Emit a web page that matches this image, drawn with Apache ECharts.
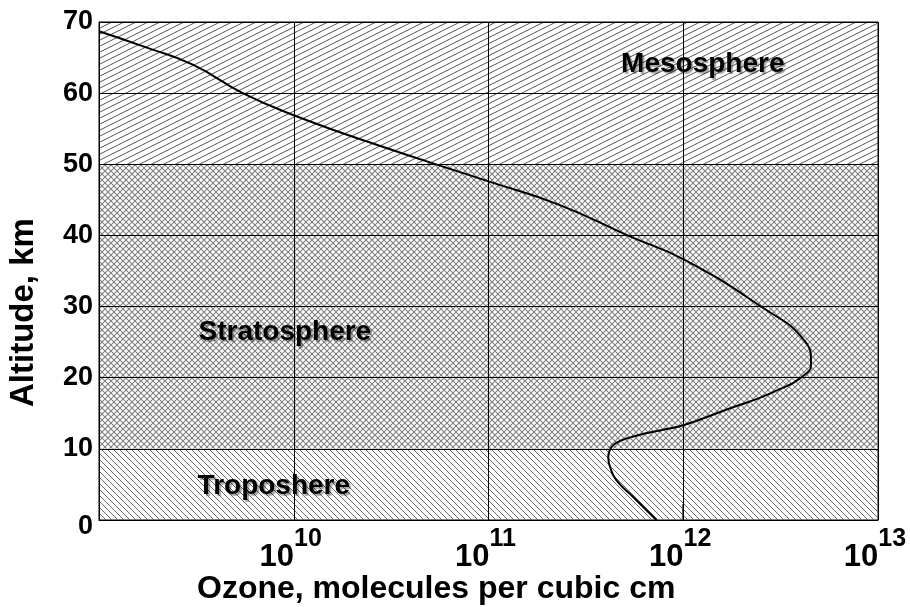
<!DOCTYPE html>
<html>
<head>
<meta charset="utf-8">
<script src="https://cdn.jsdelivr.net/npm/echarts@6/dist/echarts.min.js"></script>
<style>
  html, body { margin: 0; padding: 0; background: #fff; }
  #chart { width: 910px; height: 607px; }
</style>
</head>
<body>
<div id="chart"></div>
<script>
  // ozone profile (altitude km, molecules / cm3)
  var altitude = [68.7, 66.4, 64.0, 60.0, 56.9, 52.6, 47.6, 44.3, 39.9, 36.6, 29.9, 25.3, 22.1, 20.7, 17.9, 15.5, 13.35, 12.65, 11.95, 11.25, 10.54, 9.7, 8.86, 7.3, 5.6, 3.2, 0.0]
  var density = [1.0e9, 1.76e9, 3.03e9, 5.47e9, 1.0e10, 2.76e10, 1.0e11, 2.31e11, 5.28e11, 1.01e12, 2.54e12, 4.17e12, 4.53e12, 4.33e12, 2.86e12, 1.66e12, 1.01e12, 7.8e11, 5.94e11, 4.86e11, 4.38e11, 4.18e11, 4.12e11, 4.23e11, 4.53e11, 5.55e11, 7.28e11]
  // little stray mark near 10^12 at the ground
  var strayX = [9.9e11, 9.9e11]
  var strayY = [0, 2.2]

  var layerNames = ['Troposhere', 'Stratosphere', 'Mesosphere']
  var layerBottom = [0, 10, 50]
  var layerTop = [10, 50, 70]
  var yTicks = [0, 10, 20, 30, 40, 50, 60, 70]
  var xDecades = [1e9, 1e10, 1e11, 1e12, 1e13]

  function tile(w, h, color, lw, lines) {
    var c = document.createElement('canvas')
    c.width = w; c.height = h
    var ctx = c.getContext('2d')
    ctx.strokeStyle = color
    ctx.lineWidth = lw
    lines.forEach(function (l) {
      ctx.beginPath()
      ctx.moveTo(l[0], l[1])
      ctx.lineTo(l[2], l[3])
      ctx.stroke()
    })
    return c
  }

  // "/" shallow hatching, crosshatch, "\" hatching
  var mesoPat = tile(12, 6, '#555', 1, [[-12, 12, 24, -6], [-12, 18, 24, 0], [-12, 6, 24, -12]])
  var stratoPat = tile(6, 6, '#808080', 1.1, [[-6, 6, 6, -6], [0, 6, 6, 0], [0, 12, 12, 0], [-6, 0, 6, 12], [0, 0, 6, 6], [0, -6, 12, 6]])
  var tropoPat = tile(6, 6, '#6a6a6a', 1, [[-6, -6, 12, 12], [0, -6, 12, 6], [-6, 0, 6, 12]])
  var patterns = [tropoPat, stratoPat, mesoPat]

  var curve = density.map(function (d, i) { return [d, altitude[i]] })
  var stray = strayX.map(function (d, i) { return [d, strayY[i]] })

  var areas = layerNames.map(function (n, i) {
    return [
      { xAxis: xDecades[0], yAxis: layerBottom[i], itemStyle: { color: { image: patterns[i], repeat: 'repeat' } } },
      { xAxis: xDecades[xDecades.length - 1], yAxis: layerTop[i] }
    ]
  })

  var gridLines = yTicks.map(function (v) { return { yAxis: v } })
    .concat(xDecades.map(function (v) { return { xAxis: v } }))

  var font = 'Liberation Sans, Arial, sans-serif'
  var labelStyle = {
    show: true,
    formatter: '{b}',
    fontFamily: font,
    fontWeight: 'bold',
    fontSize: 28,
    color: '#000',
    textShadowColor: 'rgba(0,0,0,0.35)',
    textShadowOffsetX: 2,
    textShadowOffsetY: 2,
    textShadowBlur: 1
  }
  // where each layer name sits (data coords)
  var labelAt = [[7.9e9, 4.8], [9.0e9, 26.4], [1.26e12, 64.1]]

  var chart = echarts.init(document.getElementById('chart'))
  var option = {
    animation: false,
    backgroundColor: '#fff',
    grid: {
      left: 99, right: 32, top: 22, bottom: 87,
      show: true, borderColor: '#000', borderWidth: 1
    },
    xAxis: {
      type: 'log',
      logBase: 10,
      min: xDecades[0],
      max: xDecades[xDecades.length - 1],
      axisLine: { lineStyle: { color: '#000', width: 1 } },
      axisTick: { show: false },
      splitLine: { show: true, lineStyle: { color: '#000', width: 1 } },
      axisLabel: {
        margin: 7,
        formatter: function (v) {
          var e = Math.round(Math.log10(v))
          if (e === 9) return ''
          return '{b|10}{s|' + e + '}'
        },
        rich: {
          b: { fontFamily: font, fontWeight: 'bold', fontSize: 31, color: '#000', padding: [15, 0, 0, 0], verticalAlign: 'bottom' },
          s: { fontFamily: font, fontWeight: 'bold', fontSize: 25, color: '#000', padding: [0, 6, 0, 0], verticalAlign: 'top' }
        }
      }
    },
    yAxis: {
      type: 'value',
      min: yTicks[0],
      max: yTicks[yTicks.length - 1],
      interval: 10,
      axisLine: { lineStyle: { color: '#000', width: 1 } },
      axisTick: { show: false },
      splitLine: { show: true, lineStyle: { color: '#000', width: 1 } },
      axisLabel: {
        margin: 6,
        fontFamily: font,
        fontWeight: 'bold',
        fontSize: 27,
        color: '#000',
        formatter: function (v) { return v === 0 ? '{z|0}' : String(v) },
        rich: {
          z: { fontFamily: font, fontWeight: 'bold', fontSize: 27, color: '#000', padding: [14, 0, 0, 0] }
        }
      }
    },
    graphic: [
      {
        type: 'text', left: 197, top: 573,
        style: { text: 'Ozone, molecules per cubic cm', font: 'bold 32px "Liberation Sans", Arial', fill: '#000' }
      },
      {
        type: 'text', x: 7, y: 407, rotation: Math.PI / 2,
        style: { text: 'Altitude, km', font: 'bold 33px "Liberation Sans", Arial', fill: '#000' }
      }
    ],
    series: [
      {
        type: 'line',
        data: curve,
        smooth: 0.5,
        showSymbol: false,
        z: 5,
        lineStyle: { color: '#000', width: 2 },
        markArea: { silent: true, z: 1, data: areas },
        markPoint: {
          silent: true,
          symbol: 'circle',
          symbolSize: 0,
          label: labelStyle,
          data: layerNames.map(function (n, i) { return { name: n, coord: labelAt[i] } })
        }
      },
      {
        type: 'line',
        data: stray,
        showSymbol: false,
        z: 4,
        lineStyle: { color: '#444', width: 1 },
        markLine: {
          silent: true,
          symbol: 'none',
          label: { show: false },
          lineStyle: { color: '#000', width: 1, type: 'solid' },
          data: gridLines
        }
      }
    ]
  }
  chart.setOption(option)
  window.addEventListener('resize', function () { chart.resize() })
</script>
</body>
</html>
